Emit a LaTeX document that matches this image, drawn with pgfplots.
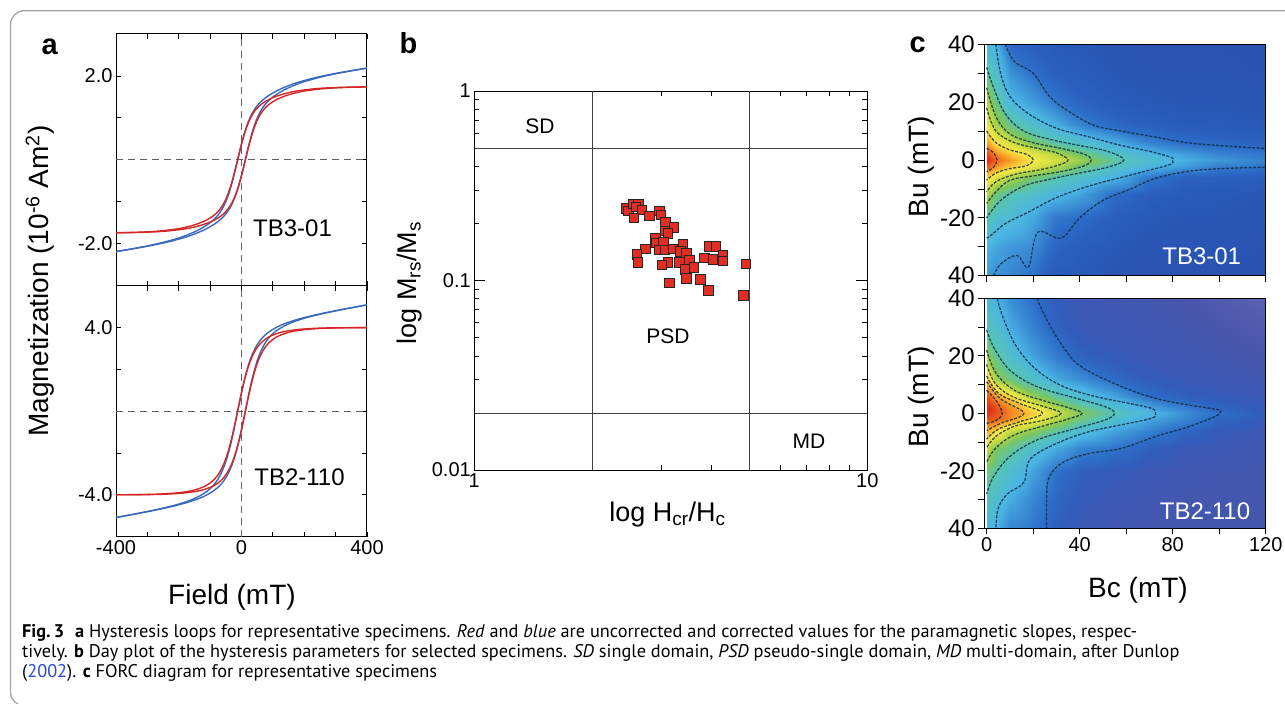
\documentclass[border=0pt]{standalone}
\usepackage{fontspec}
\setmainfont{Liberation Sans}
\newfontfamily\capfont{PT Sans}
\usepackage{pgfplots}
\pgfplotsset{compat=1.18}

\definecolor{loopred}{RGB}{213,38,38}
\definecolor{loopblue}{RGB}{58,105,185}
\definecolor{dotred}{RGB}{225,45,35}
\definecolor{framegray}{RGB}{165,165,165}
\definecolor{linkblue}{RGB}{40,70,210}
\definecolor{contourc}{RGB}{15,40,60}
\newcommand{\fs}[1]{\fontsize{#1}{#1}\selectfont}

\pgfplotsset{
  panel/.style={scale only axis, anchor=south west,
    axis line style={line width=1pt},
    every tick/.style={black, line width=0.8pt},
    tick label style={font=\fs{20}}},
  loop/.style={line width=1.4pt, smooth, tension=0.6},
  zero/.style={black!62, line width=1.1pt, dash pattern=on 7pt off 5pt},
  contour/.style={contourc, opacity=0.8, line width=1.3pt, smooth, tension=0.6,
    dash pattern=on 3pt off 1.5pt},
  colormap={forcA}{rgb255(0cm)=(40,78,172); rgb255(10cm)=(42,95,192);
    rgb255(15cm)=(45,110,200); rgb255(30cm)=(75,180,228); rgb255(42cm)=(85,195,185);
    rgb255(52cm)=(125,198,95); rgb255(62cm)=(195,218,65); rgb255(72cm)=(248,232,72);
    rgb255(82cm)=(248,170,42); rgb255(92cm)=(238,100,30); rgb255(100cm)=(215,40,20)},
  colormap={forcB}{rgb255(0cm)=(105,110,190); rgb255(4cm)=(72,86,172); rgb255(10cm)=(50,92,188);
    rgb255(15cm)=(45,110,200); rgb255(30cm)=(75,180,228); rgb255(42cm)=(85,195,185);
    rgb255(52cm)=(125,198,95); rgb255(62cm)=(195,218,65); rgb255(72cm)=(248,232,72);
    rgb255(82cm)=(248,170,42); rgb255(92cm)=(238,100,30); rgb255(100cm)=(215,40,20)},
}

\begin{document}
\begin{tikzpicture}
\path[use as bounding box] (0pt,0pt) rectangle (1285pt,704pt);
\draw[framegray, line width=1.3pt, rounded corners=14pt] (10.5pt,-2pt) rectangle (1320pt,693.3pt);

% ---------- a: hysteresis loops ----------
\begin{axis}[panel, at={(116pt,418.3pt)}, width=251pt, height=251.7pt,
  xmin=-400, xmax=400, ymin=-3, ymax=3,
  xtick={-400,-300,...,400}, xticklabels={},
  ytick={-2,-1,0,1,2}, yticklabels={-2.0,,,,2.0},
  tick align=inside, major tick length=5pt]
\addplot[zero] coordinates {(0,-3) (0,3)};
\addplot[zero] coordinates {(-400,0) (400,0)};
% corrected (blue), descending and ascending branches
\addplot[loopblue, loop] coordinates {(400,2.188) (337.5,2.110) (287.5,2.042) (237.5,1.963) (187.5,1.864) (162.5,1.804) (137.5,1.731) (112.5,1.645) (87.5,1.538) (75,1.471) (62.5,1.391) (50,1.290) (37.5,1.155) (25,0.968) (12.5,0.710) (0,0.375) (-12.5,-0.014) (-25,-0.403) (-37.5,-0.738) (-50,-0.996) (-62.5,-1.183) (-75,-1.318) (-87.5,-1.419) (-100,-1.499) (-112.5,-1.566) (-137.5,-1.673) (-162.5,-1.759) (-187.5,-1.832) (-212.5,-1.892) (-262.5,-1.991) (-312.5,-2.070) (-362.5,-2.138) (-400,-2.185)};
\addplot[loopblue, loop] coordinates {(-400,-2.188) (-337.5,-2.110) (-287.5,-2.042) (-237.5,-1.963) (-187.5,-1.864) (-162.5,-1.804) (-137.5,-1.731) (-112.5,-1.645) (-87.5,-1.538) (-75,-1.471) (-62.5,-1.391) (-50,-1.290) (-37.5,-1.155) (-25,-0.968) (-12.5,-0.710) (0,-0.375) (12.5,0.014) (25,0.403) (37.5,0.738) (50,0.996) (62.5,1.183) (75,1.318) (87.5,1.419) (100,1.499) (112.5,1.566) (137.5,1.673) (162.5,1.759) (187.5,1.832) (212.5,1.892) (262.5,1.991) (312.5,2.070) (362.5,2.138) (400,2.185)};
% uncorrected (red)
\addplot[loopred, loop] coordinates {(400,1.740) (337.5,1.732) (287.5,1.720) (237.5,1.697) (187.5,1.654) (162.5,1.622) (137.5,1.577) (112.5,1.519) (87.5,1.440) (75,1.387) (62.5,1.321) (50,1.234) (37.5,1.113) (25,0.940) (12.5,0.696) (0,0.375) (-12.5,0) (-25,-0.375) (-37.5,-0.696) (-50,-0.940) (-62.5,-1.113) (-75,-1.234) (-87.5,-1.321) (-100,-1.387) (-112.5,-1.440) (-137.5,-1.519) (-162.5,-1.577) (-187.5,-1.622) (-212.5,-1.654) (-262.5,-1.697) (-312.5,-1.720) (-362.5,-1.732) (-400,-1.737)};
\addplot[loopred, loop] coordinates {(-400,-1.740) (-337.5,-1.732) (-287.5,-1.720) (-237.5,-1.697) (-187.5,-1.654) (-162.5,-1.622) (-137.5,-1.577) (-112.5,-1.519) (-87.5,-1.440) (-75,-1.387) (-62.5,-1.321) (-50,-1.234) (-37.5,-1.113) (-25,-0.940) (-12.5,-0.696) (0,-0.375) (12.5,0) (25,0.375) (37.5,0.696) (50,0.940) (62.5,1.113) (75,1.234) (87.5,1.321) (100,1.387) (112.5,1.440) (137.5,1.519) (162.5,1.577) (187.5,1.622) (212.5,1.654) (262.5,1.697) (312.5,1.720) (362.5,1.732) (400,1.737)};
\end{axis}

\begin{axis}[panel, at={(116pt,167.3pt)}, width=251pt, height=251pt,
  xmin=-400, xmax=400, ymin=-6, ymax=6,
  xtick={-400,-300,...,400}, xticklabels={-400,,,,0,,,,400},
  ytick={-4,-2,0,2,4}, yticklabels={-4.0,,,,4.0},
  tick align=inside, major tick length=5pt]
\addplot[zero] coordinates {(0,-6) (0,6)};
\addplot[zero] coordinates {(-400,0) (400,0)};
\addplot[loopblue, loop] coordinates {(400,5.084) (337.5,4.910) (287.5,4.766) (237.5,4.610) (187.5,4.426) (162.5,4.314) (137.5,4.186) (112.5,4.018) (87.5,3.794) (75,3.640) (62.5,3.442) (50,3.180) (37.5,2.826) (25,2.340) (12.5,1.694) (0,0.884) (-12.5,-0.034) (-25,-0.952) (-37.5,-1.762) (-50,-2.408) (-62.5,-2.894) (-75,-3.248) (-87.5,-3.510) (-100,-3.708) (-112.5,-3.862) (-137.5,-4.086) (-162.5,-4.254) (-187.5,-4.382) (-212.5,-4.494) (-262.5,-4.678) (-312.5,-4.834) (-362.5,-4.978) (-400,-5.083)};
\addplot[loopblue, loop] coordinates {(-400,-5.084) (-337.5,-4.910) (-287.5,-4.766) (-237.5,-4.610) (-187.5,-4.426) (-162.5,-4.314) (-137.5,-4.186) (-112.5,-4.018) (-87.5,-3.794) (-75,-3.640) (-62.5,-3.442) (-50,-3.180) (-37.5,-2.826) (-25,-2.340) (-12.5,-1.694) (0,-0.884) (12.5,0.034) (25,0.952) (37.5,1.762) (50,2.408) (62.5,2.894) (75,3.248) (87.5,3.510) (100,3.708) (112.5,3.862) (137.5,4.086) (162.5,4.254) (187.5,4.382) (212.5,4.494) (262.5,4.678) (312.5,4.834) (362.5,4.978) (400,5.083)};
\addplot[loopred, loop] coordinates {(400,3.996) (337.5,3.992) (287.5,3.984) (237.5,3.964) (187.5,3.916) (162.5,3.872) (137.5,3.812) (112.5,3.712) (87.5,3.556) (75,3.436) (62.5,3.272) (50,3.044) (37.5,2.724) (25,2.272) (12.5,1.660) (0,0.884) (-12.5,0) (-25,-0.884) (-37.5,-1.660) (-50,-2.272) (-62.5,-2.724) (-75,-3.044) (-87.5,-3.272) (-100,-3.436) (-112.5,-3.556) (-137.5,-3.712) (-162.5,-3.812) (-187.5,-3.872) (-212.5,-3.916) (-262.5,-3.964) (-312.5,-3.984) (-362.5,-3.992) (-400,-3.995)};
\addplot[loopred, loop] coordinates {(-400,-3.996) (-337.5,-3.992) (-287.5,-3.984) (-237.5,-3.964) (-187.5,-3.916) (-162.5,-3.872) (-137.5,-3.812) (-112.5,-3.712) (-87.5,-3.556) (-75,-3.436) (-62.5,-3.272) (-50,-3.044) (-37.5,-2.724) (-25,-2.272) (-12.5,-1.660) (0,-0.884) (12.5,0) (25,0.884) (37.5,1.660) (50,2.272) (62.5,2.724) (75,3.044) (87.5,3.272) (100,3.436) (112.5,3.556) (137.5,3.712) (162.5,3.812) (187.5,3.872) (212.5,3.916) (262.5,3.964) (312.5,3.984) (362.5,3.992) (400,3.995)};
\end{axis}

\node[font=\bfseries\fs{29}, anchor=base west] at (38pt,649pt) {a};
\node[font=\fs{24}] at (292.5pt,475.4pt) {TB3-01};
\node[font=\fs{24}] at (299.5pt,226.5pt) {TB2-110};
\node[font=\fs{28}, rotate=90] at (40pt,423pt) {Magnetization (10\textsuperscript{-6} Am\textsuperscript{2})};
\node[font=\fs{28}, anchor=base] at (232pt,99pt) {Field (mT)};

% ---------- b: Day plot ----------
\begin{axis}[panel, at={(474.3pt,234pt)}, width=393pt, height=379pt,
  xmode=log, ymode=log, xmin=1, xmax=10, ymin=0.01, ymax=1,
  xtick={1,10}, xticklabels={1,10},
  ytick={0.01,0.1,1}, yticklabels={0.01,0.1,1},
  minor xtick={2,3,4,5,6,7,8,9},
  minor ytick={0.02,0.03,0.04,0.05,0.06,0.07,0.08,0.09,0.2,0.3,0.4,0.5,0.6,0.7,0.8,0.9},
  tick align=inside, major tick length=11pt, minor tick length=5pt]
\addplot[black!75, line width=0.8pt] coordinates {(2,0.01) (2,1)};
\addplot[black!75, line width=0.8pt] coordinates {(5,0.01) (5,1)};
\addplot[black!75, line width=0.8pt] coordinates {(1,0.5) (10,0.5)};
\addplot[black!75, line width=0.8pt] coordinates {(1,0.02) (10,0.02)};
\addplot[only marks, mark=square*, mark size=4.8pt,
  mark options={fill=dotred, draw=black!85, line width=0.7pt}] coordinates {
  (2.43,0.240) (2.47,0.2335) (2.54,0.2533) (2.615,0.252) (2.574,0.2453)
  (2.672,0.2355) (2.544,0.2146) (2.789,0.219) (2.957,0.2326) (2.98,0.2216)
  (3.063,0.2028) (3.222,0.1909) (3.057,0.1832) (3.111,0.1773) (2.888,0.1669)
  (2.894,0.1583) (3.027,0.1603) (2.724,0.1466) (2.589,0.1379) (2.604,0.1247)
  (2.957,0.1449) (3.051,0.1449) (3.197,0.1472) (3.396,0.1552) (3.35,0.142)
  (3.47,0.1402) (3.525,0.1283) (3.324,0.1247) (3.111,0.1247) (2.998,0.1207)
  (3.436,0.1145) (3.623,0.1173) (3.47,0.1026) (3.76,0.1014) (3.135,0.097)
  (3.94,0.0887) (3.963,0.1509) (4.121,0.1509) (3.848,0.132) (4.042,0.1293)
  (4.285,0.1364) (4.285,0.1272) (4.913,0.1227) (4.837,0.0835)};
\end{axis}

\node[font=\bfseries\fs{29}, anchor=base west] at (396pt,650.7pt) {b};
\node[font=\fs{21}] at (540pt,578pt) {SD};
\node[font=\fs{21}] at (668pt,368pt) {PSD};
\node[font=\fs{21}] at (809pt,263pt) {MD};
\node[font=\fs{27}, rotate=90] at (410pt,421pt) {log M\textsubscript{rs}/M\textsubscript{s}};
\node[font=\fs{27}, anchor=base] at (667.5pt,182.3pt) {log H\textsubscript{cr}/H\textsubscript{c}};

% ---------- c: FORC diagrams ----------
\begin{axis}[panel, at={(984.3pt,428.3pt)}, width=281.4pt, height=231.4pt,
  view={0}{90}, xmin=-1, xmax=120, ymin=-40, ymax=40,
  xtick={0,20,...,120}, xticklabels={},
  ytick={-40,-30,...,40}, yticklabels={40,,-20,,0,,20,,40},
  yticklabel style={font=\fs{24}},
  tick align=outside, tick pos=left, major tick length=6pt,
  colormap name=forcA, point meta min=0, point meta max=1, axis on top]
\addplot3[surf, shader=interp, mesh/cols=11] coordinates {
(0,-40,0.25) (4,-40,0.22) (10,-40,0.20) (20,-40,0.16) (30,-40,0.07) (40,-40,0.06) (55,-40,0.04) (70,-40,0.03) (85,-40,0.03) (100,-40,0.03) (120,-40,0.02)
(0,-30,0.30) (4,-30,0.27) (10,-30,0.24) (20,-30,0.21) (30,-30,0.12) (40,-30,0.09) (55,-30,0.06) (70,-30,0.04) (85,-30,0.04) (100,-30,0.04) (120,-30,0.03)
(0,-20,0.42) (4,-20,0.37) (10,-20,0.34) (20,-20,0.27) (30,-20,0.17) (40,-20,0.14) (55,-20,0.09) (70,-20,0.06) (85,-20,0.05) (100,-20,0.05) (120,-20,0.04)
(0,-12,0.59) (4,-12,0.48) (10,-12,0.42) (20,-12,0.37) (30,-12,0.31) (40,-12,0.26) (55,-12,0.14) (70,-12,0.09) (85,-12,0.07) (100,-12,0.06) (120,-12,0.05)
(0,-6,0.75) (4,-6,0.67) (10,-6,0.59) (20,-6,0.50) (30,-6,0.44) (40,-6,0.38) (55,-6,0.30) (70,-6,0.17) (85,-6,0.11) (100,-6,0.10) (120,-6,0.09)
(0,-2,0.95) (4,-2,0.86) (10,-2,0.78) (20,-2,0.68) (30,-2,0.60) (40,-2,0.50) (55,-2,0.40) (70,-2,0.32) (85,-2,0.25) (100,-2,0.19) (120,-2,0.16)
(0,0,1.00) (4,0,0.92) (10,0,0.84) (20,0,0.72) (30,0,0.65) (40,0,0.57) (55,0,0.45) (70,0,0.36) (85,0,0.29) (100,0,0.24) (120,0,0.19)
(0,2,0.96) (4,2,0.87) (10,2,0.78) (20,2,0.68) (30,2,0.60) (40,2,0.50) (55,2,0.40) (70,2,0.32) (85,2,0.25) (100,2,0.20) (120,2,0.17)
(0,6,0.84) (4,6,0.72) (10,6,0.65) (20,6,0.52) (30,6,0.44) (40,6,0.38) (55,6,0.29) (70,6,0.20) (85,6,0.15) (100,6,0.13) (120,6,0.11)
(0,12,0.69) (4,12,0.58) (10,12,0.47) (20,12,0.37) (30,12,0.29) (40,12,0.20) (55,12,0.13) (70,12,0.10) (85,12,0.08) (100,12,0.07) (120,12,0.06)
(0,20,0.59) (4,20,0.47) (10,20,0.32) (20,20,0.25) (30,20,0.17) (40,20,0.12) (55,20,0.08) (70,20,0.06) (85,20,0.05) (100,20,0.05) (120,20,0.04)
(0,30,0.45) (4,30,0.36) (10,30,0.23) (20,30,0.15) (30,30,0.10) (40,30,0.08) (55,30,0.05) (70,30,0.04) (85,30,0.04) (100,30,0.04) (120,30,0.03)
(0,40,0.33) (4,40,0.30) (10,40,0.13) (20,40,0.10) (30,40,0.07) (40,40,0.06) (55,40,0.04) (70,40,0.03) (85,40,0.03) (100,40,0.03) (120,40,0.02)
};
\addplot[contour] coordinates {(8,40) (12,34) (20,30) (27,22) (35,17) (46,12) (58,10) (72,8) (86,6) (100,5) (120,4)};
\addplot[contour] coordinates {(3,-40) (6,-36) (13,-33) (18,-37) (22,-25) (32,-27) (40,-20) (50,-14) (62,-10) (72,-6.5) (86,-4) (100,-3) (120,-2.5)};
\addplot[contour] coordinates {(4,40) (6,30) (10,22) (18,16) (30,11) (44,8) (58,5) (70,3) (79,1) (80,0) (79,-1.5) (70,-3.5) (58,-6) (44,-9) (30,-13) (18,-18) (8,-22) (2,-26) (0,-27)};
\addplot[contour] coordinates {(0,32) (3,25) (8,16) (16,10) (28,7) (40,5) (52,3) (59,0) (52,-2.5) (40,-4.5) (28,-6.5) (16,-9) (6,-14) (0,-20)};
\addplot[contour] coordinates {(0,25) (4,15) (10,9) (20,6) (32,4) (42,2) (45,0) (42,-2) (32,-4) (20,-5.5) (10,-7) (4,-11) (0,-15)};
\addplot[contour] coordinates {(0,18) (4,10) (12,6) (22,4) (30,2.5) (35,0) (30,-2) (22,-3.5) (12,-5) (4,-7.5) (0,-11)};
\addplot[contour] coordinates {(0,10) (4,6) (10,3.5) (17,2) (20,0) (17,-2) (10,-3) (4,-4.5) (0,-7)};
\addplot[contour] coordinates {(0,4) (3,2.5) (4.5,0) (3,-2.5) (0,-4)};
\end{axis}

\begin{axis}[panel, at={(984.3pt,175.7pt)}, width=281.4pt, height=230pt,
  view={0}{90}, xmin=-1, xmax=120, ymin=-40, ymax=40,
  xtick={0,20,...,120}, xticklabels={0,,40,,80,,120},
  ytick={-40,-30,...,40}, yticklabels={40,,-20,,0,,20,,40},
  yticklabel style={font=\fs{24}},
  tick align=outside, tick pos=left, major tick length=6pt,
  colormap name=forcB, point meta min=0, point meta max=1, axis on top]
\addplot3[surf, shader=interp, mesh/cols=11] coordinates {
(0,-40,0.30) (4,-40,0.30) (10,-40,0.20) (20,-40,0.17) (30,-40,0.11) (40,-40,0.08) (55,-40,0.06) (70,-40,0.05) (85,-40,0.05) (100,-40,0.05) (120,-40,0.05)
(0,-30,0.40) (4,-30,0.36) (10,-30,0.28) (20,-30,0.20) (30,-30,0.13) (40,-30,0.09) (55,-30,0.07) (70,-30,0.06) (85,-30,0.05) (100,-30,0.05) (120,-30,0.05)
(0,-20,0.49) (4,-20,0.44) (10,-20,0.37) (20,-20,0.26) (30,-20,0.16) (40,-20,0.11) (55,-20,0.09) (70,-20,0.07) (85,-20,0.06) (100,-20,0.05) (120,-20,0.05)
(0,-12,0.62) (4,-12,0.52) (10,-12,0.47) (20,-12,0.37) (30,-12,0.28) (40,-12,0.20) (55,-12,0.16) (70,-12,0.11) (85,-12,0.08) (100,-12,0.07) (120,-12,0.05)
(0,-6,0.82) (4,-6,0.745) (10,-6,0.62) (20,-6,0.54) (30,-6,0.45) (40,-6,0.35) (55,-6,0.26) (70,-6,0.19) (85,-6,0.13) (100,-6,0.09) (120,-6,0.07)
(0,-2,0.94) (4,-2,0.93) (10,-2,0.86) (20,-2,0.72) (30,-2,0.60) (40,-2,0.49) (55,-2,0.37) (70,-2,0.27) (85,-2,0.20) (100,-2,0.13) (120,-2,0.09)
(0,0,0.98) (4,0,0.95) (10,0,0.88) (20,0,0.77) (30,0,0.64) (40,0,0.53) (55,0,0.42) (70,0,0.32) (85,0,0.22) (100,0,0.15) (120,0,0.10)
(0,2,1.00) (4,2,0.95) (10,2,0.86) (20,2,0.72) (30,2,0.60) (40,2,0.49) (55,2,0.37) (70,2,0.27) (85,2,0.19) (100,2,0.13) (120,2,0.09)
(0,6,0.94) (4,6,0.84) (10,6,0.75) (20,6,0.56) (30,6,0.45) (40,6,0.36) (55,6,0.26) (70,6,0.15) (85,6,0.11) (100,6,0.09) (120,6,0.07)
(0,12,0.77) (4,12,0.57) (10,12,0.48) (20,12,0.38) (30,12,0.28) (40,12,0.22) (55,12,0.14) (70,12,0.10) (85,12,0.08) (100,12,0.07) (120,12,0.05)
(0,20,0.56) (4,20,0.45) (10,20,0.37) (20,20,0.26) (30,20,0.18) (40,20,0.12) (55,20,0.09) (70,20,0.07) (85,20,0.06) (100,20,0.05) (120,20,0.04)
(0,30,0.41) (4,30,0.37) (10,30,0.28) (20,30,0.19) (30,30,0.12) (40,30,0.08) (55,30,0.07) (70,30,0.06) (85,30,0.05) (100,30,0.04) (120,30,0.03)
(0,40,0.33) (4,40,0.30) (10,40,0.22) (20,40,0.15) (30,40,0.10) (40,40,0.07) (55,40,0.06) (70,40,0.05) (85,40,0.04) (100,40,0.03) (120,40,0.02)
};
\addplot[contour] coordinates {(21.6,40) (25.8,32.6) (33,23) (41,16) (58,9.3) (72.6,5.2) (86.8,2.9) (99.6,1.2) (100,0) (98,-1.2) (86.8,-4.7) (72.6,-8.1) (58,-12.2) (44,-14) (33,-17) (27,-22) (25.8,-29) (25.8,-40)};
\addplot[contour] coordinates {(4.5,40) (7.4,32.6) (13,23) (21.6,15) (33,9.3) (47,5.8) (61,3.5) (71,1.7) (72.6,0) (71,-1.7) (58,-4) (44,-6.4) (30,-10.5) (18.7,-16) (16,-24) (9,-28) (5,-33) (4,-40)};
\addplot[contour] coordinates {(0,29) (3,23) (10,15) (21.6,9.3) (38.6,5.2) (51,2.3) (55,0) (51,-2.3) (38.6,-5.2) (21.6,-9.3) (10,-15) (3,-22) (0,-28)};
\addplot[contour] coordinates {(0,22) (4,14) (12,8) (24,4.5) (35,2) (41,0) (35,-2) (24,-4.5) (12,-7.5) (4,-12) (0,-17)};
\addplot[contour] coordinates {(0,17) (4,10) (12,5.5) (24,2.5) (32,0) (24,-2.5) (12,-4.5) (4,-8) (0,-12)};
\addplot[contour] coordinates {(0,13) (5,7) (14,3.5) (24,0) (14,-3) (5,-5.5) (0,-9)};
\addplot[contour] coordinates {(0,11) (6,5) (16,0) (6,-3.5) (0,-6)};
\addplot[contour] coordinates {(0,8) (4,4.5) (6.7,0) (4,-2.5) (0,-3.5)};
\end{axis}

\node[font=\bfseries\fs{29}, anchor=base west] at (906pt,651pt) {c};
\node[font=\fs{24}, white] at (1201.7pt,447.3pt) {TB3-01};
\node[font=\fs{24}, white] at (1205pt,193pt) {TB2-110};
\node[font=\fs{28}, rotate=90] at (921.7pt,537.5pt) {Bu (mT)};
\node[font=\fs{28}, rotate=90] at (921.7pt,307pt) {Bu (mT)};
\node[font=\fs{28}, anchor=base] at (1138pt,106pt) {Bc (mT)};

% ---------- caption ----------
\begin{scope}[every node/.style={anchor=base west, inner sep=0pt, font=\capfont\fs{18.3}}]
\node at (22pt,66.7pt) {\textbf{Fig.\,3}\hspace{0.6em}\textbf{a} Hysteresis loops for representative specimens. \textit{Red} and \textit{blue} are uncorrected and corrected values for the paramagnetic slopes, respec-};
\node at (22pt,46.7pt) {tively. \textbf{b} Day plot of the hysteresis parameters for selected specimens. \textit{SD} single domain, \textit{PSD} pseudo-single domain, \textit{MD} multi-domain, after Dunlop};
\node at (22pt,26.7pt) {(\textcolor{linkblue}{2002}). \textbf{c} FORC diagram for representative specimens};
\end{scope}
\end{tikzpicture}
\end{document}
